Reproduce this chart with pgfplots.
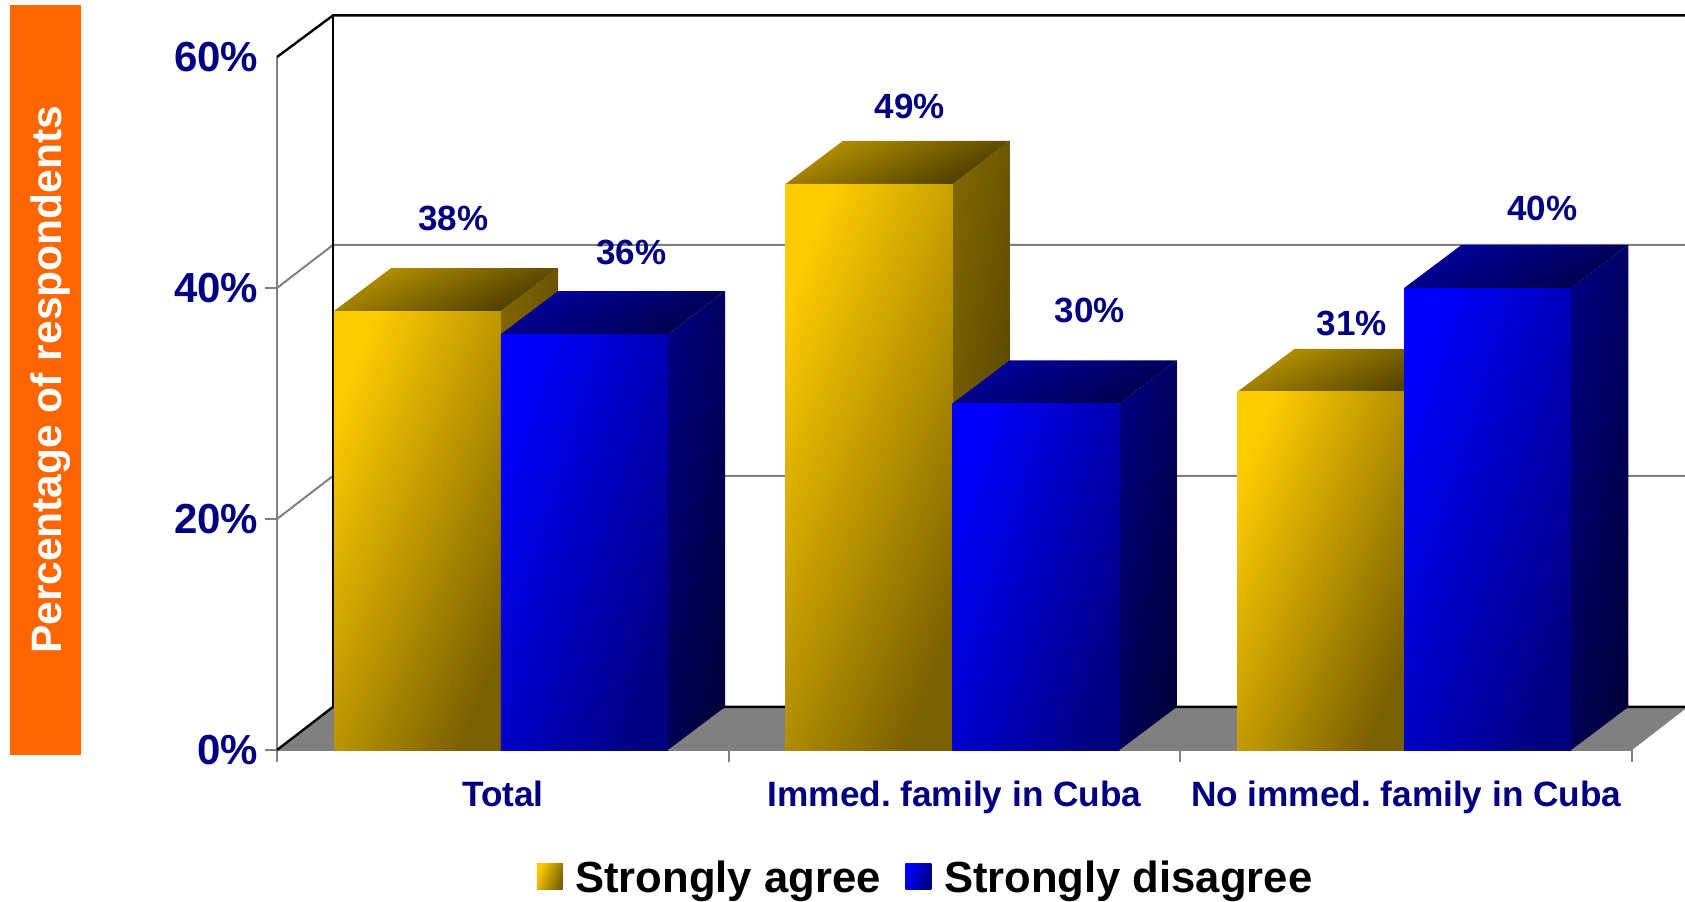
\documentclass[border=0pt]{standalone}
\usepackage{fontspec}
\setmainfont{Liberation Sans}
\usepackage{pgfplots}
\pgfplotsset{compat=1.18}
\definecolor{navytxt}{RGB}{0,0,128}
\definecolor{wallgray}{RGB}{128,128,128}
\definecolor{labelorange}{RGB}{255,102,0}
\tikzset{
  yfront/.style={draw=none,top color={rgb,255:red,255;green,204;blue,0},bottom color={rgb,255:red,122;green,96;blue,0},shading angle=68},
  yside/.style={top color={rgb,255:red,128;green,102;blue,0},bottom color={rgb,255:red,70;green,56;blue,0},shading angle=80},
  ytop/.style={top color={rgb,255:red,184;green,148;blue,0},bottom color={rgb,255:red,70;green,56;blue,0},shading angle=25},
  bfront/.style={draw=none,top color={rgb,255:red,0;green,0;blue,255},bottom color={rgb,255:red,0;green,0;blue,128},shading angle=72},
  bside/.style={top color={rgb,255:red,0;green,0;blue,128},bottom color={rgb,255:red,0;green,0;blue,56},shading angle=80},
  btop/.style={top color={rgb,255:red,0;green,0;blue,160},bottom color={rgb,255:red,0;green,0;blue,72},shading angle=25},
}
\begin{document}
\frenchspacing
\begin{tikzpicture}
\useasboundingbox (0,0) rectangle (842.5pt,450.5pt);
\begin{axis}[
  at={(138.5pt,75.5pt)}, anchor=south west,
  scale only axis, width=677.5pt, height=346.5pt,
  xmin=0, xmax=3, ymin=0, ymax=60,
  clip=false,
  axis x line*=bottom, axis y line*=left,
  axis line style={wallgray, line width=1pt, -},
  xtick={0.5,1.5,2.5},
  xticklabels={Total,Immed. family in Cuba,No immed. family in Cuba},
  minor xtick={0,1,2,3},
  ytick={0,20,40,60},
  yticklabels={0\%,20\%,40\%,60\%},
  minor ytick={0,20,40},
  major tick length=0pt,
  minor tick length=6pt,
  tick align=outside,
  tick style={wallgray, line width=1pt},
  xticklabel style={font=\bfseries\fontsize{17.6}{20}\selectfont, text=navytxt, anchor=base, yshift=-28pt},
  yticklabel style={font=\bfseries\fontsize{21}{24}\selectfont, text=navytxt, anchor=east, xshift=-5.8pt},
  ylabel={Percentage of respondents},
  every axis y label/.style={
    at={(axis description cs:-0.1708,0.5339)}, rotate=90, anchor=center,
    fill=labelorange, text=white, inner sep=0pt,
    minimum width=375pt, minimum height=35.5pt,
    text height=20pt, text depth=3.6pt,
    font=\bfseries\fontsize{21.25}{24}\selectfont},
  legend columns=2,
  legend cell align=left,
  legend style={at={(axis description cs:0.187,-0.1855)}, anchor=west, draw=none, fill=none,
    font=\bfseries\fontsize{21.8}{26}\selectfont,
    /tikz/every odd column/.append style={column sep=4.3pt},
    /tikz/every even column/.append style={column sep=10.4pt}},
]
% floor and back wall
\addplot[forget plot, draw=none, fill=wallgray] coordinates {(0,0) (0.124,3.73) (3.117,3.73) (3.117,3.53) (3,0)} --cycle;
\addplot[forget plot, wallgray, line width=1pt] coordinates {(0,20) (0.124,23.73) (3.117,23.73)};
\addplot[forget plot, wallgray, line width=1pt] coordinates {(0,40) (0.124,43.73) (3.117,43.73)};
\addplot[forget plot, black, line width=1.2pt] coordinates {(0,60) (0.124,63.6) (3.117,63.6)};
\addplot[forget plot, black, line width=1.2pt] coordinates {(0.124,63.6) (0.124,3.73)};
\addplot[forget plot, black, line width=1.2pt] coordinates {(0,0) (0.124,3.73) (3.117,3.73)};

% strongly agree: side, top, front
\addplot[forget plot, draw=none, yside] coordinates {(0.4955,0) (0.6225,3.73) (0.6225,41.73) (0.4955,38)} --cycle;
\addplot[forget plot, draw=none, ytop] coordinates {(0.1258,38) (0.2528,41.73) (0.6225,41.73) (0.4955,38)} --cycle;
\addplot[forget plot, ybar, bar width=83.5pt, bar shift=-41.75pt, yfront] coordinates {(0.4955,38)};
\addplot[forget plot, draw=none, yside] coordinates {(1.4955,0) (1.6225,3.73) (1.6225,52.73) (1.4955,49)} --cycle;
\addplot[forget plot, draw=none, ytop] coordinates {(1.1258,49) (1.2528,52.73) (1.6225,52.73) (1.4955,49)} --cycle;
\addplot[forget plot, ybar, bar width=83.5pt, bar shift=-41.75pt, yfront] coordinates {(1.4955,49)};
\addplot[forget plot, draw=none, yside] coordinates {(2.4955,0) (2.6225,3.73) (2.6225,34.73) (2.4955,31)} --cycle;
\addplot[forget plot, draw=none, ytop] coordinates {(2.1258,31) (2.2528,34.73) (2.6225,34.73) (2.4955,31)} --cycle;
\addplot[forget plot, ybar, bar width=83.5pt, bar shift=-41.75pt, yfront] coordinates {(2.4955,31)};

% strongly disagree: side, top, front
\addplot[forget plot, draw=none, bside] coordinates {(0.8652,0) (0.9922,3.73) (0.9922,39.73) (0.8652,36)} --cycle;
\addplot[forget plot, draw=none, btop] coordinates {(0.4955,36) (0.6225,39.73) (0.9922,39.73) (0.8652,36)} --cycle;
\addplot[forget plot, ybar, bar width=83.5pt, bar shift=41.75pt, bfront] coordinates {(0.4955,36)};
\addplot[forget plot, draw=none, bside] coordinates {(1.8652,0) (1.9922,3.73) (1.9922,33.73) (1.8652,30)} --cycle;
\addplot[forget plot, draw=none, btop] coordinates {(1.4955,30) (1.6225,33.73) (1.9922,33.73) (1.8652,30)} --cycle;
\addplot[forget plot, ybar, bar width=83.5pt, bar shift=41.75pt, bfront] coordinates {(1.4955,30)};
\addplot[forget plot, draw=none, bside] coordinates {(2.8652,0) (2.9922,3.73) (2.9922,43.73) (2.8652,40)} --cycle;
\addplot[forget plot, draw=none, btop] coordinates {(2.4955,40) (2.6225,43.73) (2.9922,43.73) (2.8652,40)} --cycle;
\addplot[forget plot, ybar, bar width=83.5pt, bar shift=41.75pt, bfront] coordinates {(2.4955,40)};

% value labels
\addplot[forget plot, draw=none, mark=none, nodes near coords, point meta=explicit symbolic,
  nodes near coords style={font=\bfseries\fontsize{17.5}{20}\selectfont, text=navytxt, anchor=center, inner sep=0pt}]
  coordinates {
    (0.390,46.05) [38\%]
    (0.784,43.1)  [36\%]
    (1.401,55.76) [49\%]
    (1.800,38.08) [30\%]
    (2.380,36.97) [31\%]
    (2.801,46.93) [40\%]
  };

\addlegendimage{legend image code/.code={\path[yfront] (0pt,-5.5pt) rectangle (13pt,7.5pt);}}
\addlegendentry{Strongly agree}
\addlegendimage{legend image code/.code={\path[bfront] (0pt,-5.5pt) rectangle (13pt,7.5pt);}}
\addlegendentry{Strongly disagree}
\end{axis}
\end{tikzpicture}
\end{document}
